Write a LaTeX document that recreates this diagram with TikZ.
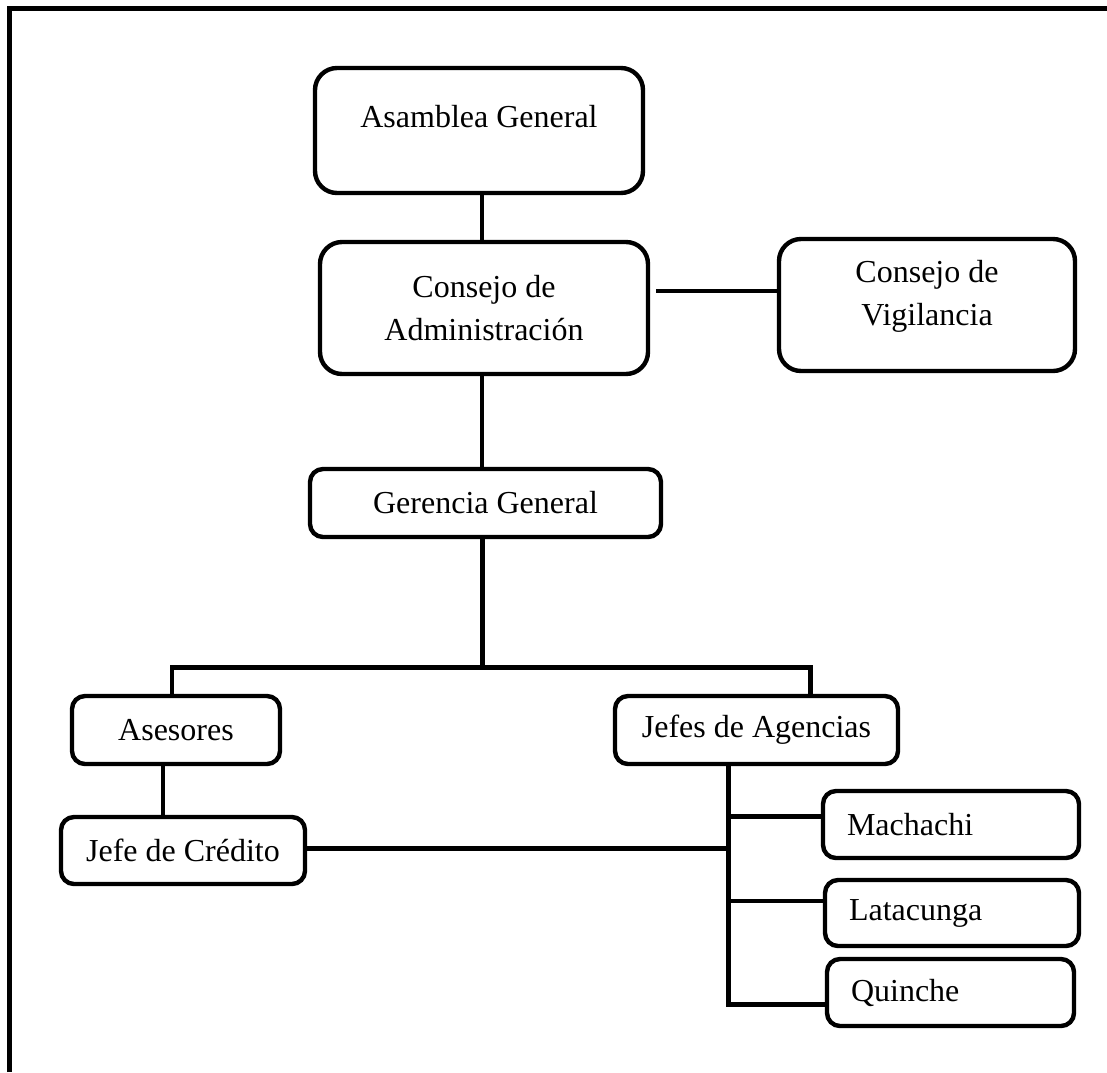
\documentclass[tikz,border=0pt]{standalone}
\usepackage{fontspec}
\setmainfont{Liberation Serif}
\usepackage{tikz}
\usetikzlibrary{calc}

\begin{document}
\begin{tikzpicture}[x=0.5pt, y=-0.5pt,
        box/.style={draw, line width=2.2pt, rounded corners=6.5pt, inner sep=2pt,
            font=\fontsize{16}{21.5}\selectfont, align=center},
        bigbox/.style={box, rounded corners=11pt},
        agency/.style={box, align=left, inner xsep=12pt, minimum height=33.5pt},
        link/.style={line width=2.4pt}]
    \useasboundingbox (0, 0) rectangle (1107, 1072);
    \draw [line width=2.5pt] (9.5, 1072) -- (9.5, 8.5) -- (1107, 8.5);

    \node [bigbox, minimum width=164pt, minimum height=62.5pt, text depth=14pt]
        (asamblea) at (479, 130.5) {Asamblea General};
    \node [bigbox, minimum width=164pt, minimum height=66pt]
        (consejo) at (484, 308) {Consejo de\\Administración};
    \node [bigbox, minimum width=148pt, minimum height=66pt, text depth=12pt]
        (vigilancia) at (927, 305) {Consejo de\\Vigilancia};
    \node [box, minimum width=175.5pt, minimum height=34pt]
        (gerencia) at (485.5, 503) {Gerencia General};
    \node [box, minimum width=104pt, minimum height=34pt]
        (asesores) at (176, 730) {Asesores};
    \node [box, minimum width=141.5pt, minimum height=34pt]
        (jefes) at (756.5, 730) {Jefes de Agencias};
    \node [box, minimum width=122pt, minimum height=33.5pt]
        (credito) at (183, 850.5) {Jefe de Crédito};
    \node [agency, text width=104pt]
        (machachi) at (951, 824.5) {Machachi};
    \node [agency, text width=103pt, minimum height=33pt]
        (latacunga) at (952, 913) {Latacunga};
    \node [agency, text width=99.5pt]
        (quinche) at (950.5, 992.5) {Quinche};

    \draw [link] ([xshift=1.5pt]asamblea.south) -- ([xshift=1.5pt]asamblea.south |- consejo.north);
    \coordinate (vigin) at ([yshift=7pt]vigilancia.west);
    \draw [link] ([xshift=3pt]consejo.east |- vigin) -- (vigin);
    \draw [link] ([xshift=-1pt]consejo.south) -- ([xshift=-1pt]consejo.south |- gerencia.north);

    \coordinate (barleft) at ([xshift=-2pt, yshift=13pt]asesores.north);
    \coordinate (barright) at ([xshift=27pt]jefes.north |- barleft);
    \draw [link] ([xshift=-1.5pt]gerencia.south) -- ([xshift=-1.5pt]gerencia.south |- barleft);
    \draw [link] ([xshift=-2pt]asesores.north) -- (barleft) -- (barright) -- (barright |- jefes.north);
    \draw [link] ([xshift=-6.5pt]asesores.south) -- ([xshift=-6.5pt]asesores.south |- credito.north);

    \coordinate (spine) at ([xshift=-14pt]jefes.south);
    \coordinate (quinchein) at ([yshift=-6pt]quinche.west);
    \draw [link] (spine) |- (quinchein);
    \draw [link] ([yshift=1pt]credito.east) -- ([yshift=1pt]credito.east -| spine);
    \draw [link] ([yshift=4pt]machachi.west) -- ([yshift=4pt]machachi.west -| spine);
    \draw [link] ([yshift=6pt]latacunga.west) -- ([yshift=6pt]latacunga.west -| spine);
\end{tikzpicture}
\end{document}
